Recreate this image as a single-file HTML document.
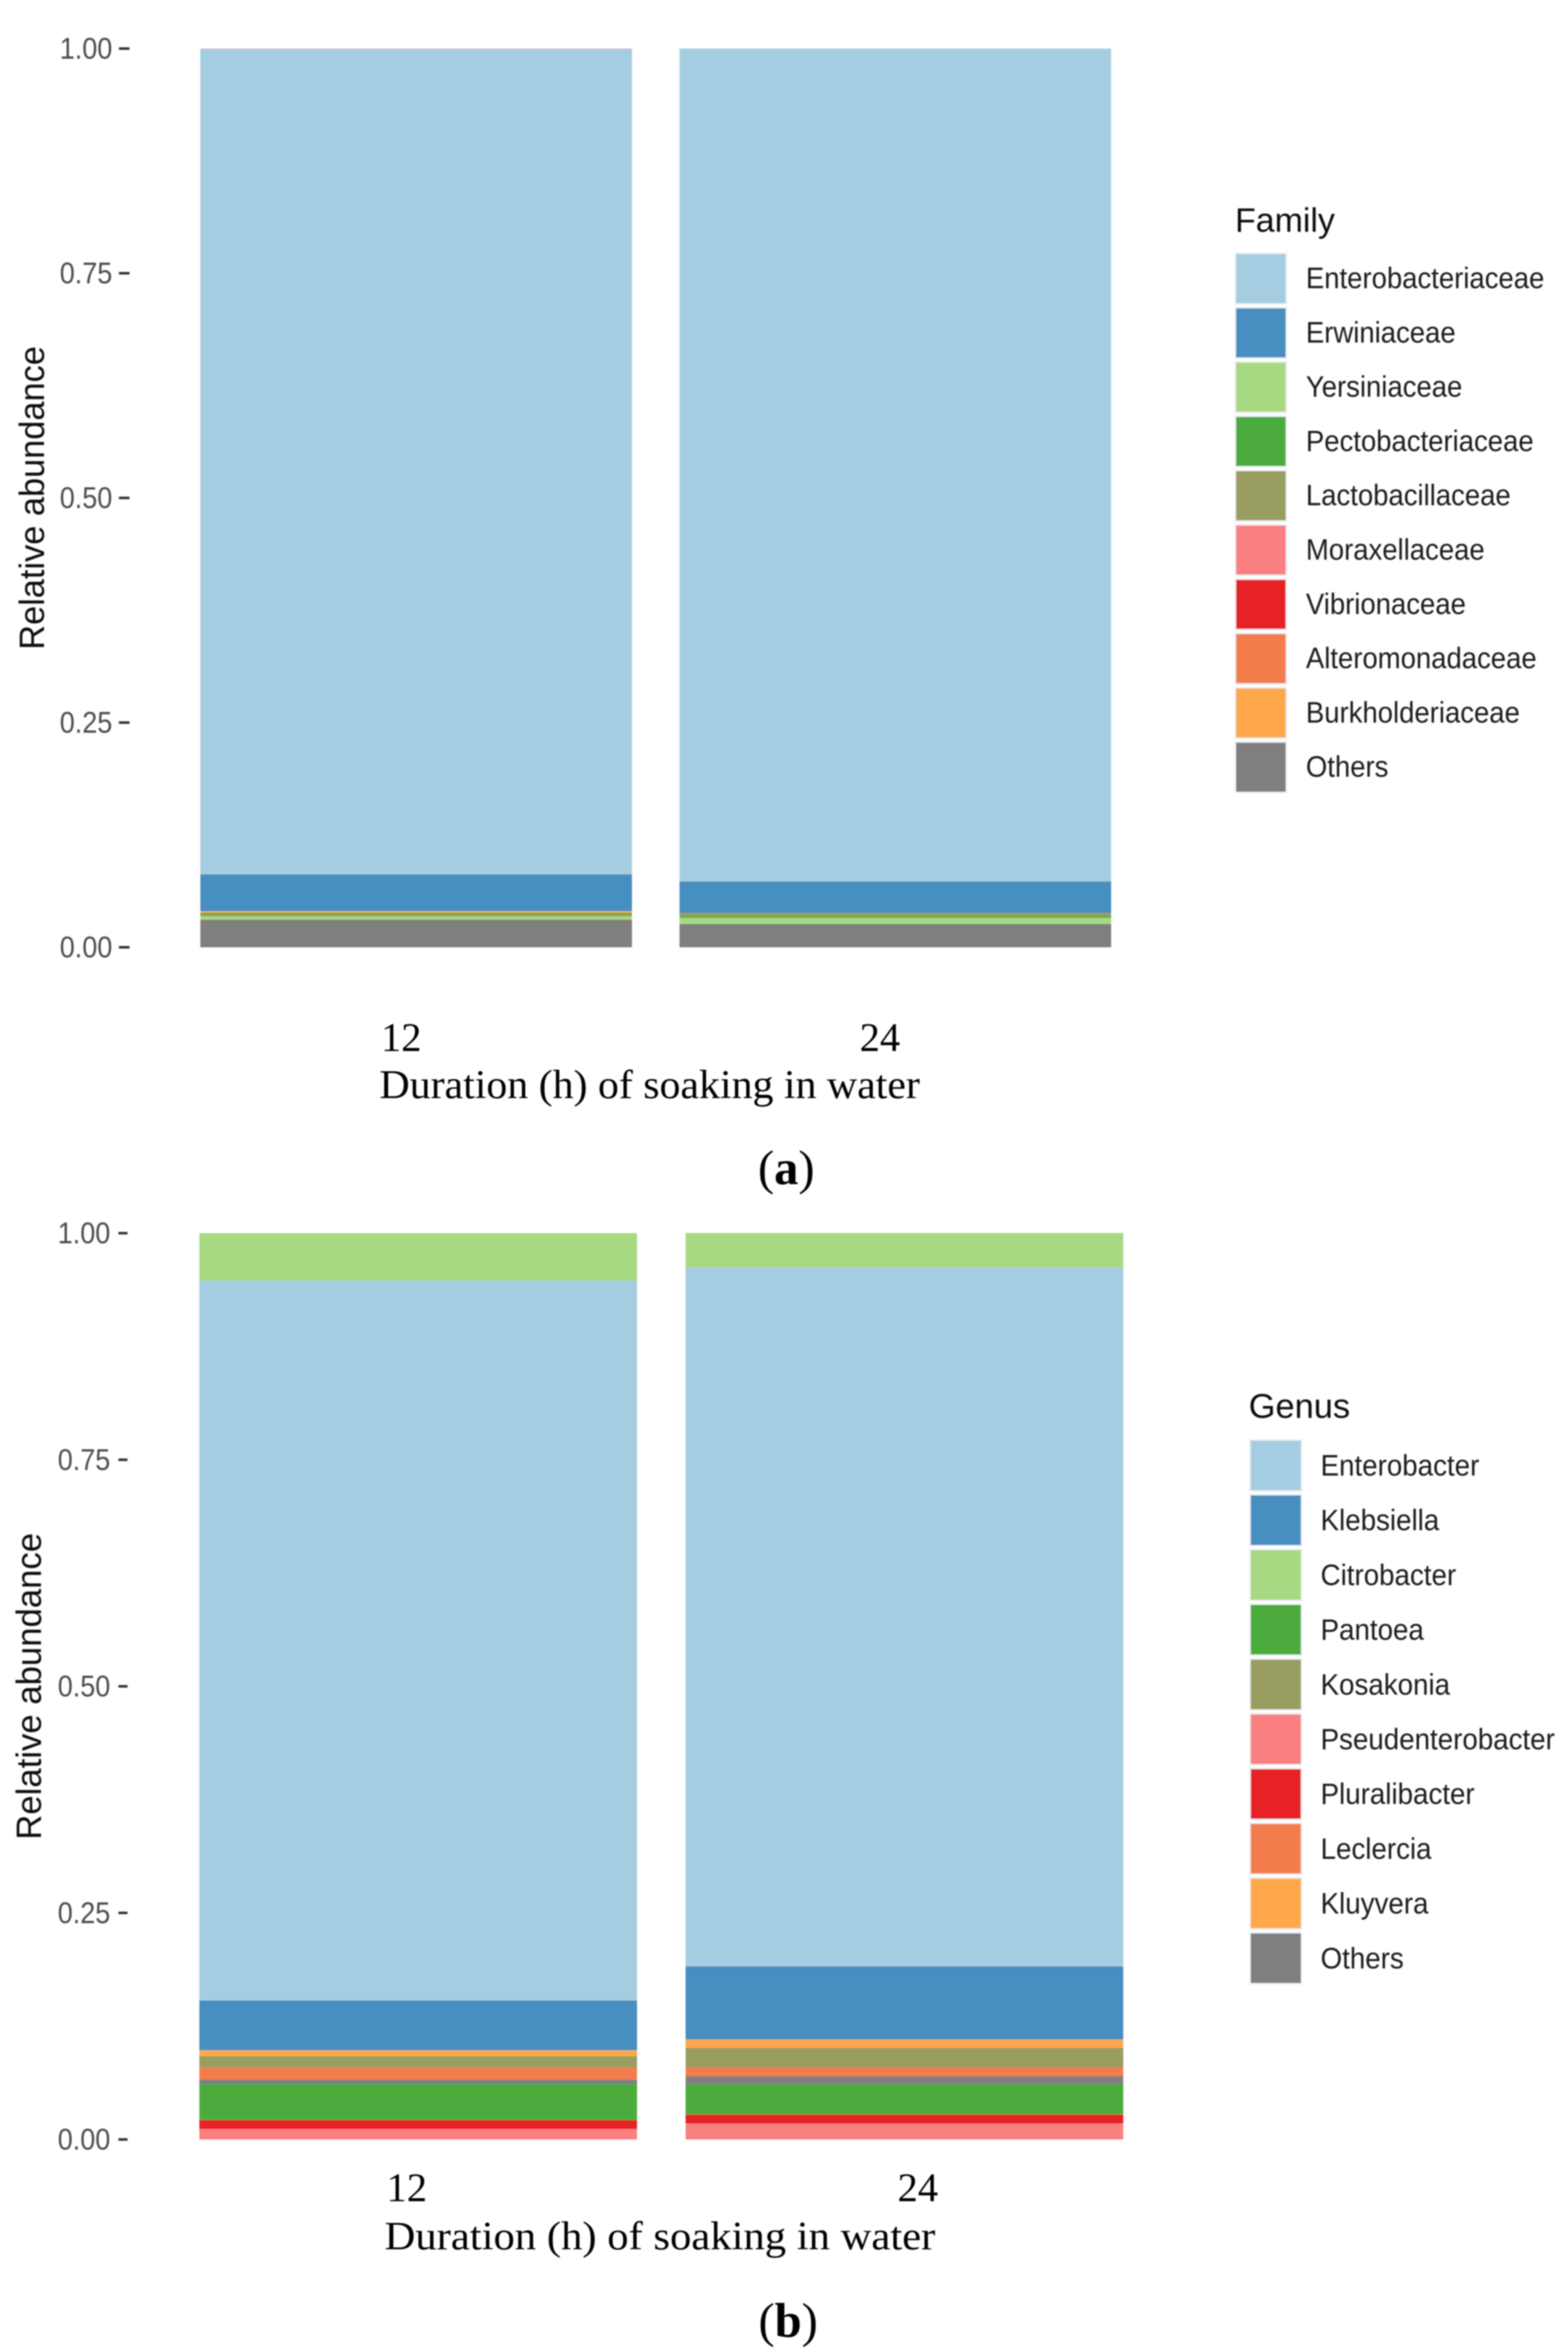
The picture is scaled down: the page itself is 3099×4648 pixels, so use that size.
<!DOCTYPE html>
<html lang="en">
<head>
<meta charset="utf-8">
<title>Relative abundance by family and genus</title>
<style>
html,body{margin:0;padding:0;background:#fff;}
svg{display:block;}
</style>
</head>
<body>
<svg id="figure" xmlns="http://www.w3.org/2000/svg" width="3099" height="4648" viewBox="0 0 3099 4648">
  <defs>
    <filter id="soft" filterUnits="userSpaceOnUse" x="0" y="0" width="3099" height="4648">
      <feGaussianBlur stdDeviation="1.2"/>
    </filter>
  </defs>
  <rect x="0" y="0" width="3099" height="4648" fill="#ffffff"/>
  <g id="root" filter="url(#soft)"></g>
</svg>
<script>
const categories = ['12', '24'];
const tickValues = [0, 0.25, 0.5, 0.75, 1];
const tickLabels = ['0.00', '0.25', '0.50', '0.75', '1.00'];
const paletteColors = ['#a5cde1', '#478ec1', '#a7d982', '#4cac3e', '#999d61', '#fa8082', '#e62428', '#f37c4d', '#fea84b', '#7f7f7f'];

const familyNames = ['Enterobacteriaceae', 'Erwiniaceae', 'Yersiniaceae', 'Pectobacteriaceae', 'Lactobacillaceae', 'Moraxellaceae', 'Vibrionaceae', 'Alteromonadaceae', 'Burkholderiaceae', 'Others'];
const familyValues12 = [0.9185, 0.0411, 0.0037, 0.0017, 0.0023, 0, 0, 0.0003, 0.0017, 0.0307];
const familyValues24 = [0.9268, 0.0349, 0.0068, 0.0017, 0.0039, 0, 0, 0, 0, 0.0259];
const familyStack12 = [9, 2, 4, 3, 8, 1, 0, 7];
const familyStack24 = [9, 2, 3, 4, 1, 0];

const genusNames = ['Enterobacter', 'Klebsiella', 'Citrobacter', 'Pantoea', 'Kosakonia', 'Pseudenterobacter', 'Pluralibacter', 'Leclercia', 'Kluyvera', 'Others'];
const genusValues12 = [0.7943, 0.0550, 0.0523, 0.0396, 0.0128, 0.0115, 0.0100, 0.0131, 0.0064, 0.0050];
const genusValues24 = [0.7712, 0.0807, 0.0380, 0.0335, 0.0218, 0.0176, 0.0100, 0.0095, 0.0092, 0.0087];
const genusStack = [5, 6, 3, 9, 7, 4, 8, 1, 0, 2];

const NS = 'http://www.w3.org/2000/svg';
const root = document.getElementById('root');

function addRect(parent, x, y, w, h, fill, name) {
  const el = document.createElementNS(NS, 'rect');
  el.setAttribute('x', x);
  el.setAttribute('y', y);
  el.setAttribute('width', w);
  el.setAttribute('height', h);
  el.setAttribute('fill', fill);
  
  
  parent.appendChild(el);
  return el;
}

function addText(parent, str, o, name) {
  const el = document.createElementNS(NS, 'text');
  el.textContent = str;
  el.setAttribute('transform', 'translate(' + o.x + ' ' + o.y + ') rotate(' + (o.rot || 0) + ') scale(' + (o.sx || 1) + ' 1)');
  el.setAttribute('font-family', o.serif ? '"Liberation Serif", serif' : '"Liberation Sans", sans-serif');
  el.setAttribute('font-size', o.size);
  el.setAttribute('fill', o.fill || '#000000');
  el.setAttribute('text-anchor', o.anchor || 'start');
  if (o.weight) el.setAttribute('font-weight', o.weight);
  
  
  parent.appendChild(el);
  return el;
}

function drawPanel(cfg) {
  const g = document.createElementNS(NS, 'g');
  
  
  root.appendChild(g);

  const yScale = function (v) { return cfg.y0 - v * (cfg.y0 - cfg.y1); };
  const xBand = function (i) { return cfg.barLeft + i * cfg.barStep; };
  const xLabel = function (i) { return cfg.labelLeft + i * cfg.labelStep; };

  tickValues.forEach(function (v, i) {
    const y = yScale(v);
    addRect(g, cfg.tickX, y - 2.5, cfg.tickLen, 5, '#333333', cfg.id + '-y-tick-' + tickLabels[i]);
    addText(g, tickLabels[i], { x: cfg.tickTextRight, y: y + 20, size: 59, sx: 0.905, anchor: 'end', fill: '#4d4d4d' }, cfg.id + '-y-tick-label-' + tickLabels[i]);
  });

  addText(g, 'Relative abundance', { x: cfg.yTitleX, y: (cfg.y0 + cfg.y1) / 2, size: 70, sx: cfg.yTitleSx, anchor: 'middle', rot: -90, fill: '#111111' }, cfg.id + '-y-axis-title');

  cfg.bars.forEach(function (bar, b) {
    let cumulative = 0;
    bar.stack.forEach(function (idx) {
      const v = bar.values[idx];
      const top = yScale(cumulative + v);
      const bottom = yScale(cumulative);
      addRect(g, xBand(b), top, cfg.barWidth, bottom - top, paletteColors[idx], cfg.id + '-bar-' + categories[b] + '-' + cfg.names[idx].toLowerCase());
      cumulative += v;
    });
    addText(g, categories[b], { x: xLabel(b), y: cfg.xLabelY, size: 80, serif: true, anchor: 'middle' }, cfg.id + '-x-tick-label-' + categories[b]);
  });

  addText(g, 'Duration (h) of soaking in water', { x: cfg.xTitleX, y: cfg.xTitleY, size: 80, sx: cfg.xTitleSx, serif: true }, cfg.id + '-x-axis-title');

  const cap = document.createElementNS(NS, 'text');
  cap.setAttribute('x', cfg.captionX);
  cap.setAttribute('y', cfg.captionY);
  cap.setAttribute('font-family', '"Liberation Serif", serif');
  cap.setAttribute('font-size', 96);
  cap.setAttribute('fill', '#000000');
  
  
  cap.appendChild(document.createTextNode('('));
  const capBold = document.createElementNS(NS, 'tspan');
  capBold.setAttribute('font-weight', 'bold');
  capBold.textContent = cfg.captionLetter;
  cap.appendChild(capBold);
  cap.appendChild(document.createTextNode(')'));
  g.appendChild(cap);

  addText(g, cfg.legendTitle, { x: cfg.legendTitleX, y: cfg.legendTitleY, size: cfg.legendTitleSize, fill: '#111111' }, cfg.id + '-legend-title');
  cfg.names.forEach(function (name, i) {
    const cy = cfg.legendY + i * cfg.legendStep;
    const key = name.toLowerCase();
    addRect(g, cfg.keyX - 3, cy - cfg.keyH / 2 - 3, cfg.keyW + 6, cfg.keyH + 6, '#eef0f2', cfg.id + '-legend-key-bg-' + key);
    addRect(g, cfg.keyX, cy - cfg.keyH / 2, cfg.keyW, cfg.keyH, paletteColors[i], cfg.id + '-legend-swatch-' + key);
    addText(g, name, { x: cfg.legendTextX, y: cy + cfg.legendTextDy, size: 58, sx: cfg.legendSx, fill: '#1a1a1a' }, cfg.id + '-legend-label-' + key);
  });
}

drawPanel({
  id: 'family', names: familyNames,
  bars: [{ values: familyValues12, stack: familyStack12 }, { values: familyValues24, stack: familyStack24 }],
  y0: 1872, y1: 96, barLeft: 396, barStep: 947, barWidth: 853,
  tickX: 235, tickLen: 21, tickTextRight: 222, yTitleX: 87, yTitleSx: 0.97,
  labelLeft: 793, labelStep: 946, xLabelY: 2077,
  xTitleX: 750, xTitleY: 2170, xTitleSx: 1.034,
  captionX: 1498, captionY: 2340, captionLetter: 'a',
  legendTitle: 'Family', legendTitleX: 2441, legendTitleY: 458, legendTitleSize: 67,
  keyX: 2443, keyW: 98, keyH: 97, legendY: 550.5, legendStep: 107.3,
  legendTextX: 2581, legendTextDy: 19, legendSx: 0.937
});

drawPanel({
  id: 'genus', names: genusNames,
  bars: [{ values: genusValues12, stack: genusStack }, { values: genusValues24, stack: genusStack }],
  y0: 4228, y1: 2437, barLeft: 394, barStep: 961, barWidth: 865,
  tickX: 234, tickLen: 18, tickTextRight: 218, yTitleX: 81, yTitleSx: 0.98,
  labelLeft: 804, labelStep: 1010, xLabelY: 4350,
  xTitleX: 760, xTitleY: 4445, xTitleSx: 1.054,
  captionX: 1499, captionY: 4618, captionLetter: 'b',
  legendTitle: 'Genus', legendTitleX: 2468, legendTitleY: 2802, legendTitleSize: 68,
  keyX: 2472, keyW: 99, keyH: 98, legendY: 2896, legendStep: 108.2,
  legendTextX: 2610, legendTextDy: 20, legendSx: 0.945
});
</script>
</body>
</html>
